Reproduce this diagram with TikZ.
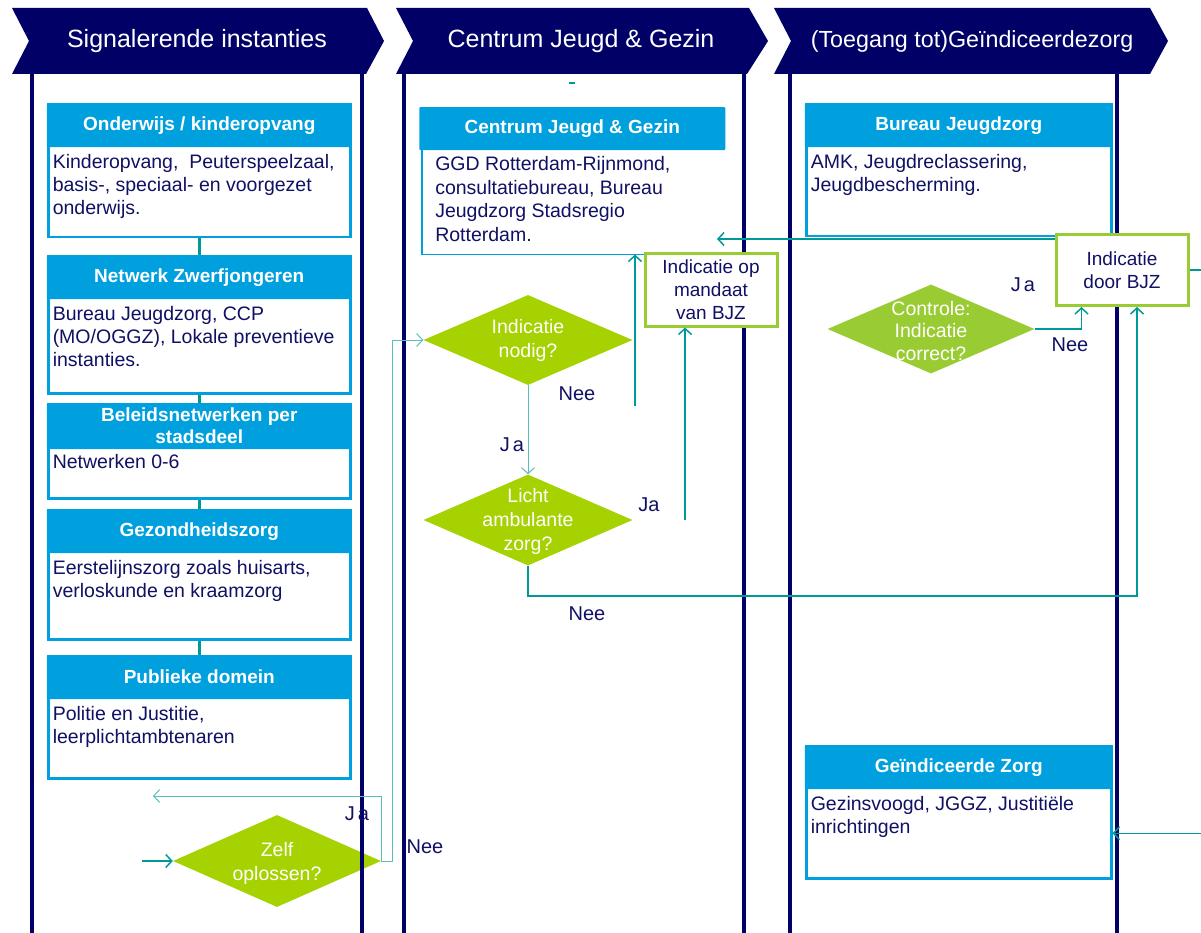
\documentclass[tikz,border=0pt]{standalone}
\usepackage{fontspec}
\setmainfont{Liberation Sans}
\usetikzlibrary{shapes.geometric,arrows.meta}
\definecolor{navy}{RGB}{0,0,102}
\definecolor{txtnavy}{RGB}{16,16,100}
\definecolor{boxblue}{RGB}{0,160,222}
\definecolor{lime}{RGB}{165,210,0}
\definecolor{leaf}{RGB}{153,204,51}
\definecolor{tealc}{RGB}{0,153,153}
\definecolor{teallight}{RGB}{90,190,190}
\begin{document}
\begin{tikzpicture}[x=1pt,y=-1pt,
  lane/.style={draw=navy,line width=3.5pt},
  box/.style={draw=boxblue,line width=2.5pt,fill=white,minimum width=302,anchor=north west,inner sep=0},
  hdr/.style={fill=boxblue,text=white,font=\bfseries\fontsize{19}{22}\selectfont,minimum width=305,minimum height=44,anchor=north,inner sep=0,align=center,rounded corners=1pt},
  txt/.style={text=txtnavy,font=\fontsize{19.5}{23}\selectfont,align=left,anchor=north west,inner sep=0},
  dia/.style={diamond,fill=lime,minimum width=209,minimum height=90,inner sep=0},
  diatxt/.style={text=white,font=\fontsize{19.5}{24}\selectfont,align=center,inner sep=0},
  gbox/.style={draw=leaf,line width=3pt,fill=white,text=txtnavy,font=\fontsize{19}{23}\selectfont,align=center,inner sep=0,minimum width=132,minimum height=71},
  link/.style={draw=tealc,line width=3pt},
  conn/.style={draw=tealc,line width=1.5pt,-{Straight Barb[length=6pt,width=13pt]}},
  connlight/.style={draw=teallight,line width=1pt,-{Straight Barb[length=6pt,width=13pt]}},
  lbl/.style={text=txtnavy,font=\fontsize{20}{22}\selectfont,inner sep=0},
  chevtxt/.style={text=white,font=\fontsize{25}{28}\selectfont,inner sep=0}]
\useasboundingbox (0,0) rectangle (1201,933);
% chevrons
\fill[navy] (12,8) -- (367,8) -- (384,41) -- (366,74) -- (12,74) -- (29,41) -- cycle; % lane 1
\fill[navy] (396,8) -- (749,8) -- (768,41) -- (747,74) -- (396,74) -- (413,41) -- cycle; % lane 2
\fill[navy] (774,8) -- (1150,8) -- (1168,41) -- (1150,74) -- (774,74) -- (791,41) -- cycle; % lane 3
\node[chevtxt] (t1) at (197,41) {Signalerende instanties};
\node[chevtxt] (t2) at (581,41) {Centrum Jeugd \& Gezin};
\node[chevtxt,font=\fontsize{23.3}{28}\selectfont] (t3) at (972,41) {(Toegang tot)Geïndiceerdezorg};
% lane lines
\draw[lane] (32,74) -- (32,933); % lane 1
\draw[lane] (362,74) -- (362,933);
\draw[lane] (404,74) -- (404,933); % lane 2
\draw[lane] (744,74) -- (744,933);
\draw[lane] (790,74) -- (790,933); % lane 3
\draw[lane] (1117,74) -- (1117,933);
\draw[tealc,line width=2.5pt] (569,83) -- (575,83);
% signalerende instanties
\node[box,minimum height=133] (ondw) at (47,103) {};
\node[hdr] (ondw-h) at (ondw.north) {Onderwijs / kinderopvang};
\node[txt] (ondw-t) at ([xshift=6,yshift=-7]ondw-h.south west) {Kinderopvang,\ \ Peuterspeelzaal,\\basis-, speciaal-\ en voorgezet\\onderwijs.};
\node[box,minimum height=137] (netw) at (47,255) {};
\node[hdr] (netw-h) at (netw.north) {Netwerk Zwerfjongeren};
\node[txt] (netw-t) at ([xshift=6,yshift=-7]netw-h.south west) {Bureau Jeugdzorg, CCP\\(MO/OGGZ), Lokale preventieve\\instanties.};
\node[box,minimum height=94] (beleid) at (47,403) {};
\node[hdr,minimum height=46] (beleid-h) at (beleid.north) {Beleidsnetwerken per\\stadsdeel};
\node[txt] (beleid-t) at ([xshift=6,yshift=-5]beleid-h.south west) {Netwerken 0-6};
\node[box,minimum height=129] (gezond) at (47,509) {};
\node[hdr] (gezond-h) at (gezond.north) {Gezondheidszorg};
\node[txt] (gezond-t) at ([xshift=6,yshift=-7]gezond-h.south west) {Eerstelijnszorg\ zoals\ huisarts,\\verloskunde en kraamzorg};
\node[box,minimum height=122] (publ) at (47,655) {};
\node[hdr] (publ-h) at (publ.north) {Publieke domein};
\node[txt] (publ-t) at ([xshift=6,yshift=-7]publ-h.south west) {Politie en Justitie,\\leerplichtambtenaren};
\draw[link] (ondw.south) -- (netw.north);
\draw[link] (netw.south) -- (beleid.north);
\draw[link] (beleid.south) -- (gezond.north);
\draw[link] (gezond.south) -- (publ.north);
% centrum jeugd en gezin
\node[box,draw=none,fill=none,minimum width=306,minimum height=145] (cjg) at (418,107) {};
\node[hdr,minimum width=306,minimum height=43] (cjg-h) at (cjg.north) {Centrum Jeugd \& Gezin};
\draw[boxblue,line width=1.3pt] ([xshift=3]cjg-h.south west) |- ([xshift=-2]cjg.south east);
\node[txt,font=\fontsize{19.5}{23.5}\selectfont] (cjg-t) at ([xshift=16,yshift=-6]cjg-h.south west) {GGD Rotterdam-Rijnmond,\\consultatiebureau, Bureau\\Jeugdzorg Stadsregio\\Rotterdam.};
\node[dia] (nodig) at (528,340) {};
\node[diatxt] (nodig-t) at (nodig) {Indicatie\\nodig?};
\node[dia,minimum height=91] (licht) at (528,520) {};
\node[diatxt] (licht-t) at (528,521) {Licht\\ambulante\\zorg?};
\node[gbox,minimum height=72] (mandaat) at (711,290) {Indicatie op\\mandaat\\van BJZ};
% geindiceerde zorg
\node[box,minimum width=305,minimum height=132] (bjz) at (805,103) {};
\node[hdr,minimum width=308] (bjz-h) at (bjz.north) {Bureau Jeugdzorg};
\node[txt] (bjz-t) at ([xshift=6,yshift=-7]bjz-h.south west) {AMK, Jeugdreclassering,\\Jeugdbescherming.};
\node[dia,fill=leaf,minimum width=207,minimum height=89] (contr) at (931,329) {};
\node[diatxt,font=\fontsize{19.5}{22.5}\selectfont] (contr-t) at (931,331) {Controle:\\Indicatie\\correct?};
\node[gbox] (door) at (1122,270) {Indicatie\\door BJZ};
\node[box,minimum width=305,minimum height=132] (gz) at (805,745) {};
\node[hdr,minimum width=308] (gz-h) at (gz.north) {Geïndiceerde Zorg};
\node[txt] (gz-t) at ([xshift=6,yshift=-7]gz-h.south west) {Gezinsvoogd, JGGZ, Justitiële\\inrichtingen};
% zelf oplossen
\node[dia,minimum width=208,minimum height=92] (zelf) at (277,861) {};
\node[diatxt] (zelf-t) at (277,863) {Zelf\\oplossen?};
\draw[lane] (362,812) -- (362,910); % lane line over diamond
% connectors
\coordinate (cjgin) at (717,239);
\draw[conn] (door.west |- cjgin) -- (cjgin);
\coordinate (neeup) at (635,406);
\draw[conn] (neeup) -- (neeup |- cjg.south);
\coordinate (jaup) at (685,520);
\draw[conn] (jaup) -- (jaup |- mandaat.south);
\draw[connlight] (nodig.south) -- (licht.north);
\coordinate (neebend) at (1137,596);
\draw[conn] (licht.south) |- (neebend) -- (neebend |- door.south);
\draw[conn] (contr.east) -| ([xshift=27]door.south west);
\coordinate (offright) at (1210,269);
\draw[conn] (door.east) -- (door.east -| offright) |- ([yshift=-21]gz.east);
\coordinate (zelfin) at (142,861);
\draw[conn] (zelfin) -- (zelf.west);
\coordinate (jaleft) at (153,796);
\draw[connlight] (zelf.east) |- (jaleft);
\coordinate (neebend2) at (392,861);
\draw[connlight] (zelf.east) -- (neebend2) |- (nodig.west);
% labels
\node[lbl] (nee1) at (577,394) {Nee};
\node[lbl] (ja1) at (512,445) {J\kern3pt a};
\node[lbl] (ja2) at (649,505) {Ja};
\node[lbl] (nee2) at (587,614) {Nee};
\node[lbl] (ja3) at (1023,285) {J\kern3pt a};
\node[lbl] (nee3) at (1070,345) {Nee};
\node[lbl] (ja4) at (357,814) {J\kern3pt a};
\node[lbl] (nee4) at (425,847) {Nee};
\end{tikzpicture}
\end{document}
